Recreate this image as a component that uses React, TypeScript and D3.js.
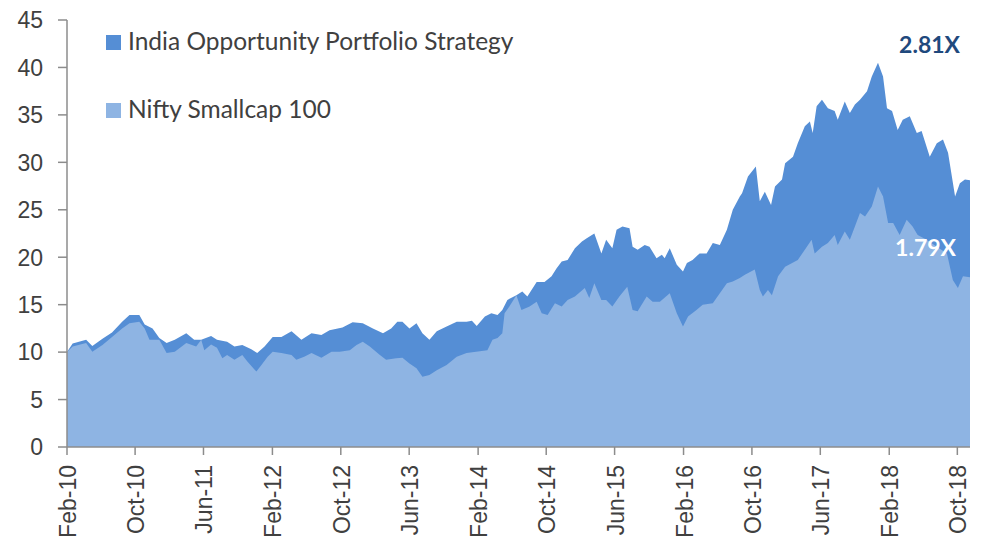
import React from "react";
import * as d3 from "d3";

const portfolioDates = [
  "2010-02-01","2010-02-21","2010-04-10","2010-05-02","2010-06-07","2010-07-11","2010-08-16","2010-09-11","2010-10-16","2010-11-04",
  "2010-12-02","2010-12-26","2011-01-21","2011-02-19","2011-04-01","2011-04-29","2011-05-24","2011-06-28","2011-07-19","2011-08-24",
  "2011-09-19","2011-10-17","2011-11-18","2011-12-09","2012-01-04","2012-02-02","2012-03-04","2012-04-09","2012-05-14","2012-06-19",
  "2012-07-24","2012-08-22","2012-10-07","2012-11-12","2012-12-18","2013-01-23","2013-02-28","2013-03-29","2013-04-20","2013-05-08",
  "2013-06-02","2013-06-27","2013-07-18","2013-08-12","2013-09-07","2013-10-12","2013-11-17","2013-12-22","2014-01-10","2014-01-27",
  "2014-02-25","2014-03-20","2014-04-11","2014-04-28","2014-05-16","2014-06-17","2014-07-08","2014-07-26","2014-08-28","2014-09-25",
  "2014-10-20","2014-11-07","2014-11-25","2014-12-16","2015-01-11","2015-02-05","2015-02-22","2015-03-21","2015-04-15","2015-05-02",
  "2015-05-24","2015-06-08","2015-06-29","2015-07-24","2015-08-04","2015-08-22","2015-09-16","2015-10-03","2015-10-28","2015-11-16",
  "2015-11-26","2015-12-14","2016-01-08","2016-01-30","2016-02-13","2016-03-04","2016-03-29","2016-04-23","2016-05-15","2016-06-09",
  "2016-07-04","2016-07-25","2016-08-19","2016-08-27","2016-09-17","2016-10-15","2016-10-29","2016-11-16","2016-12-08","2016-12-22",
  "2017-01-16","2017-01-27","2017-02-24","2017-03-13","2017-04-07","2017-04-25","2017-05-05","2017-05-19","2017-06-07","2017-06-28",
  "2017-07-22","2017-08-02","2017-08-27","2017-09-14","2017-10-02","2017-10-20","2017-11-14","2017-12-01","2017-12-23","2018-01-10",
  "2018-01-24","2018-02-11","2018-03-03","2018-03-21","2018-04-15","2018-05-10","2018-05-27","2018-06-25","2018-07-20","2018-08-11",
  "2018-08-29","2018-09-23","2018-10-10","2018-10-28","2018-11-15"
];
const portfolioValues = [
  10.0,10.9,11.3,10.65,11.4,12.06,13.2,13.9,13.9,12.9,
  12.5,11.5,10.95,11.3,12.0,11.3,11.3,11.7,11.3,11.1,
  10.6,10.75,10.3,9.9,10.6,11.6,11.6,12.2,11.3,12.0,
  11.8,12.3,12.6,13.15,13.05,12.5,12.0,12.5,13.2,13.2,
  12.5,13.05,12.0,11.3,12.2,12.7,13.2,13.2,13.3,12.75,
  13.75,14.1,13.9,14.45,15.5,16.0,16.4,15.85,17.4,17.4,
  18.0,18.85,19.55,19.7,20.95,21.65,22.0,22.5,20.4,21.85,
  20.95,22.9,23.25,23.05,21.1,20.8,21.3,21.1,19.9,20.25,
  19.9,20.95,19.2,18.5,19.4,19.7,20.4,20.4,21.5,21.3,
  22.9,25.0,26.4,26.75,28.5,29.55,25.9,26.9,25.5,27.45,
  28.2,29.9,30.6,32.0,33.8,34.3,33.1,35.9,36.6,35.7,
  35.4,34.5,36.4,35.2,36.1,36.6,37.5,39.05,40.5,39.05,
  35.7,35.4,33.4,34.5,34.85,33.1,33.3,30.6,32.0,32.4,
  31.0,26.4,27.8,28.2,28.1
];

const niftyDates = [
  "2010-02-01","2010-02-21","2010-04-10","2010-05-02","2010-06-07","2010-07-11","2010-08-16","2010-09-11","2010-10-16","2010-11-04",
  "2010-11-21","2010-12-26","2011-01-21","2011-02-19","2011-04-01","2011-05-06","2011-05-24","2011-06-04","2011-06-28","2011-07-19",
  "2011-08-07","2011-08-24","2011-09-19","2011-10-17","2011-11-04","2011-12-06","2011-12-24","2012-01-15","2012-02-02","2012-03-04",
  "2012-04-09","2012-04-26","2012-05-24","2012-06-19","2012-07-24","2012-08-29","2012-09-27","2012-11-02","2012-11-26","2012-12-18",
  "2013-01-12","2013-02-17","2013-03-11","2013-04-16","2013-05-08","2013-06-02","2013-06-27","2013-07-18","2013-08-12","2013-09-07",
  "2013-10-12","2013-11-17","2013-12-22","2014-03-06","2014-03-24","2014-04-11","2014-04-28","2014-05-06","2014-05-23","2014-06-17",
  "2014-07-05","2014-08-03","2014-08-28","2014-09-15","2014-10-06","2014-11-01","2014-11-25","2014-12-16","2015-01-11","2015-02-15",
  "2015-03-03","2015-03-21","2015-04-15","2015-05-02","2015-05-24","2015-06-18","2015-07-16","2015-08-04","2015-08-22","2015-09-23",
  "2015-10-14","2015-11-09","2015-12-14","2016-01-08","2016-01-30","2016-02-17","2016-03-18","2016-04-09","2016-05-15","2016-06-09",
  "2016-07-04","2016-07-25","2016-08-19","2016-09-06","2016-10-11","2016-10-29","2016-11-09","2016-11-27","2016-12-11","2017-01-02",
  "2017-01-27","2017-02-21","2017-03-13","2017-04-07","2017-05-01","2017-05-12","2017-06-07","2017-06-28","2017-07-22","2017-08-02",
  "2017-08-27","2017-09-14","2017-10-02","2017-10-20","2017-11-07","2017-12-01","2017-12-23","2018-01-10","2018-01-28","2018-02-15",
  "2018-03-10","2018-04-04","2018-04-25","2018-05-13","2018-06-14","2018-07-20","2018-08-25","2018-09-15","2018-10-03","2018-10-21",
  "2018-11-15"
];
const niftyValues = [
  10.0,10.6,10.95,10.05,10.75,11.6,12.5,13.05,13.2,12.5,
  11.3,11.3,9.9,10.05,10.95,10.6,11.3,10.2,10.8,10.45,
  9.35,9.7,9.2,9.7,9.0,7.95,8.65,9.5,10.05,9.9,
  9.7,9.2,9.5,9.9,9.4,10.05,10.05,10.2,10.75,11.1,
  10.6,9.7,9.2,9.35,9.4,8.8,8.3,7.4,7.6,8.1,
  8.65,9.5,9.9,10.2,11.3,11.5,12.0,14.1,14.8,16.0,
  14.45,14.8,15.3,14.1,13.9,15.15,14.8,15.5,15.85,16.75,
  15.7,17.25,15.5,15.5,14.8,15.85,16.9,14.45,14.3,15.85,
  15.3,15.3,16.2,14.1,12.7,13.75,14.45,15.0,15.15,16.2,
  17.25,17.45,17.8,18.15,18.7,16.55,15.85,16.55,16.0,18.0,
  19.0,19.4,19.7,20.8,21.85,20.4,21.1,21.5,22.35,21.3,
  22.7,21.85,23.25,24.65,24.3,25.35,27.45,26.4,23.6,23.6,
  22.35,23.95,23.25,22.35,21.85,21.1,20.4,17.6,16.75,18.0,
  17.9
];

const yTicks = [0, 5, 10, 15, 20, 25, 30, 35, 40, 45];
const seriesNames = ["India Opportunity Portfolio Strategy", "Nifty Smallcap 100"];
const multiples = ["2.81X", "1.79X"];

const parse = d3.timeParse("%Y-%m-%d");
const fmt = d3.timeFormat("%b-%y");

export default function App() {
  const W = 981, H = 548;
  const startDate = parse("2010-02-01")!;
  const endDate = parse("2018-11-15")!;
  const x = d3.scaleTime().domain([startDate, endDate]).range([67, 970]);
  const y = d3.scaleLinear().domain([0, 45]).range([447, 20]);

  const pData = portfolioDates.map((d, i) => ({ date: parse(d)!, value: portfolioValues[i] }));
  const nData = niftyDates.map((d, i) => ({ date: parse(d)!, value: niftyValues[i] }));

  const area = d3
    .area<{ date: Date; value: number }>()
    .x((d) => x(d.date))
    .y0(y(0))
    .y1((d) => y(d.value));

  const xTicks = d3.timeMonth.range(startDate, endDate, 8);
  const axisColor = "#8C8C8C";
  const textColor = "#404040";
  const darkBlue = "#558ED5";
  const lightBlue = "#8EB4E3";
  const axisFont = "'Liberation Sans', Arial, sans-serif";
  const legendFont = "Lato, 'Open Sans', sans-serif";

  return (
    <svg width={W} height={H} style={{ position: "absolute", left: 0, top: 0, background: "#fff" }}>
      <path d={area(pData) || ""} fill={darkBlue} />
      <path d={area(nData) || ""} fill={lightBlue} />

      {/* Y axis */}
      <line x1={67} x2={67} y1={y(45)} y2={y(0)} stroke={axisColor} strokeWidth={1.5} />
      {yTicks.map((t) => (
        <g key={t}>
          <line x1={58} x2={67} y1={y(t)} y2={y(t)} stroke={axisColor} strokeWidth={1.5} />
          <text x={43} y={y(t)} dy="0.36em" textAnchor="end" fontSize={23} fontFamily={axisFont} fill={textColor}>
            {t}
          </text>
        </g>
      ))}

      {/* X axis */}
      <line x1={67} x2={970} y1={y(0)} y2={y(0)} stroke={axisColor} strokeWidth={1.5} />
      {xTicks.map((t) => (
        <g key={+t}>
          <line x1={x(t)} x2={x(t)} y1={y(0)} y2={y(0) + 8} stroke={axisColor} strokeWidth={1.5} />
          <text
            transform={`translate(${x(t) + 9},${y(0) + 18}) rotate(-90)`}
            textAnchor="end"
            fontSize={23}
            fontFamily={axisFont}
            fill={textColor}
          >
            {fmt(t)}
          </text>
        </g>
      ))}

      {/* Legend */}
      <rect x={106} y={35} width={15} height={15} fill={darkBlue} />
      <text x={128} y={50} fontSize={24.5} fontFamily={legendFont} fill={textColor}>
        {seriesNames[0]}
      </text>
      <rect x={106} y={103} width={15} height={15} fill={lightBlue} />
      <text x={128} y={118} fontSize={24.5} fontFamily={legendFont} fill={textColor}>
        {seriesNames[1]}
      </text>

      {/* Annotations */}
      <text x={960} y={53} textAnchor="end" fontSize={23} fontWeight="bold" fontFamily={legendFont} fill="#1F497D">
        {multiples[0]}
      </text>
      <text x={956} y={256} textAnchor="end" fontSize={23} fontWeight="bold" fontFamily={legendFont} fill="#FFFFFF">
        {multiples[1]}
      </text>
    </svg>
  );
}
